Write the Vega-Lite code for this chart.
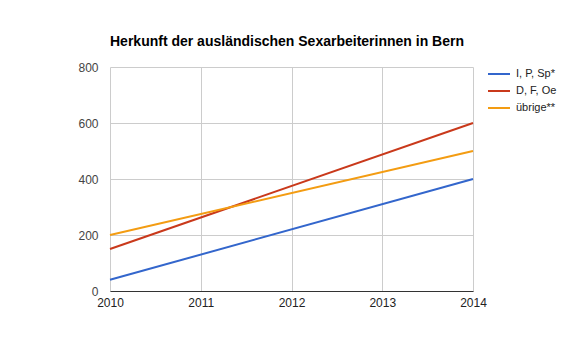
{
  "$schema": "https://vega.github.io/schema/vega-lite/v6.json",
  "width": 363,
  "height": 224,
  "autosize": {"type": "none"},
  "padding": {"left": 110, "top": 67, "right": 109, "bottom": 67},
  "background": "white",
  "title": {
    "text": "Herkunft der ausländischen Sexarbeiterinnen in Bern",
    "anchor": "start",
    "frame": "group",
    "font": "Liberation Sans",
    "fontSize": 14,
    "fontWeight": "bold",
    "color": "#000000",
    "offset": 12
  },
  "config": {
    "view": {"stroke": null},
    "font": "Liberation Sans"
  },
  "data": {
    "values": [
      {"jahr": 2010, "herkunft": "I, P, Sp*", "anzahl": 40},
      {"jahr": 2014, "herkunft": "I, P, Sp*", "anzahl": 400},
      {"jahr": 2010, "herkunft": "D, F, Oe", "anzahl": 150},
      {"jahr": 2014, "herkunft": "D, F, Oe", "anzahl": 600},
      {"jahr": 2010, "herkunft": "übrige**", "anzahl": 200},
      {"jahr": 2014, "herkunft": "übrige**", "anzahl": 500}
    ]
  },
  "mark": {"type": "line", "strokeWidth": 2},
  "encoding": {
    "x": {
      "field": "jahr",
      "type": "quantitative",
      "scale": {"domain": [2010, 2014], "nice": false, "zero": false},
      "axis": {
        "title": null,
        "values": [2010, 2011, 2012, 2013, 2014],
        "format": "d",
        "labelFontSize": 12,
        "labelColor": "#222222",
        "labelPadding": 6,
        "ticks": false,
        "domainColor": "#333333",
        "domainWidth": 1,
        "gridColor": "#cccccc",
        "labelFlush": false
      }
    },
    "y": {
      "field": "anzahl",
      "type": "quantitative",
      "scale": {"domain": [0, 800], "nice": false},
      "axis": {
        "title": null,
        "values": [0, 200, 400, 600, 800],
        "labelFontSize": 12,
        "labelColor": "#444444",
        "labelPadding": 12,
        "ticks": false,
        "domain": false,
        "gridColor": "#cccccc"
      }
    },
    "color": {
      "field": "herkunft",
      "type": "nominal",
      "sort": ["I, P, Sp*", "D, F, Oe", "übrige**"],
      "scale": {"domain": ["I, P, Sp*", "D, F, Oe", "übrige**"], "range": ["#3366cc", "#c9391b", "#f39c12"]},
      "legend": {
        "title": null,
        "orient": "none",
        "legendX": 377,
        "legendY": -5,
        "symbolType": "stroke",
        "symbolSize": 484,
        "symbolStrokeWidth": 2,
        "labelFontSize": 11,
        "labelColor": "#222222",
        "rowPadding": -5,
        "labelOffset": 5
      }
    }
  }
}
